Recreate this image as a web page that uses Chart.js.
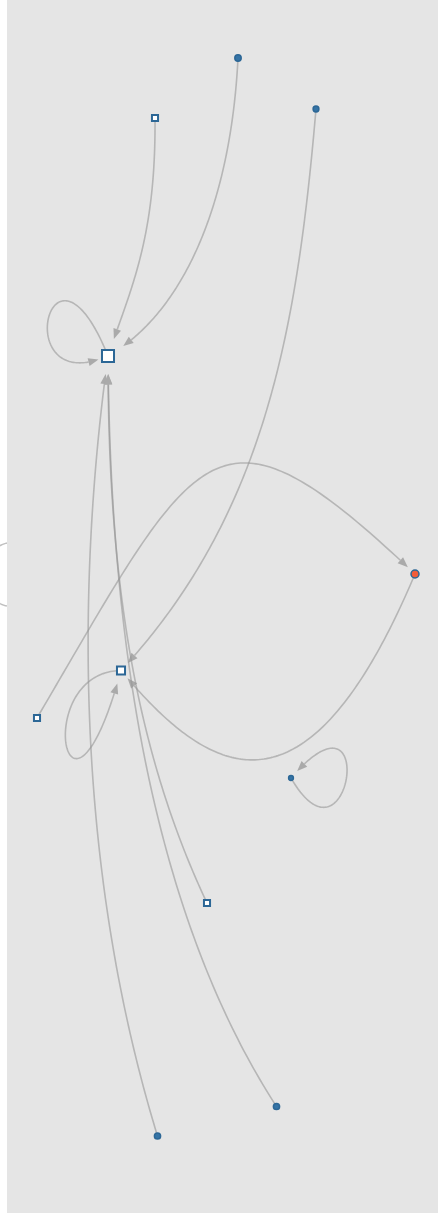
<!DOCTYPE html>
<html>
<head>
<meta charset="utf-8">
<script src="https://cdn.jsdelivr.net/npm/chart.js@4"></script>
<style>
html, body { margin: 0; padding: 0; background: #fff; }
#chart { display: block; }
</style>
</head>
<body>
<canvas id="chart" width="438" height="1213"></canvas>
<script>
// node layout (x to the right, y downwards)
const nodeNames = ['A', 'B', 'C', 'D', 'E', 'F', 'G', 'H', 'I', 'J', 'K'];
const nodeX = [101, 148, 231, 309, 408, 114, 30, 284, 200, 269.5, 150.5];
const nodeY = [356, 118, 58, 109, 574, 670.5, 718, 778, 903, 1106.5, 1136];
const nodeKind = ['box', 'box', 'dot', 'dot', 'hot', 'box', 'box', 'dot', 'box', 'dot', 'dot'];

// directed edges and their two bezier control points
const edgeFrom = ['B', 'C', 'A', 'D', 'G', 'E', 'F', 'H', 'K', 'J', 'I'];
const edgeTo   = ['A', 'A', 'A', 'F', 'E', 'F', 'F', 'H', 'A', 'A', 'A'];
const edgeCtrl = [
    [[149, 240], [123, 290]],
    [[224, 200], [178, 312]],
    [[43, 212], [0, 400]],
    [[290, 330], [258, 515]],
    [[193, 440], [208, 385]],
    [[300, 830], [205, 780]],
    [[22, 672], [60, 868]],
    [[343, 880], [373, 675]],
    [[63, 850], [73, 560]],
    [[123, 880], [103, 560]],
    [[123, 740], [101, 560]]
];
// an edge that runs off the left side of the plot
const strayEdge = [[0, 543], [-30, 550], [-30, 600], [0, 606]];

// styling
const nodeRadius = {A: 8.5, B: 4.3, C: 3.2, D: 2.9, E: 4, F: 5.7, G: 4.3, H: 2.4, I: 4.3, J: 3.1, K: 3.1};
const arrowGap = {A: 18, E: 9, F: 10, H: 9};
const loopGap = {A: 10, F: 13, H: 9};
const edgeColor = 'rgba(150,150,150,0.6)';
const arrowColor = '#aaaaaa';
const bgColor = '#e5e5e5';

function bez(p, t) {
    var u = 1 - t;
    var a = u * u * u, b = 3 * u * u * t, c = 3 * u * t * t, d = t * t * t;
    return [a * p[0][0] + b * p[1][0] + c * p[2][0] + d * p[3][0],
            a * p[0][1] + b * p[1][1] + c * p[2][1] + d * p[3][1]];
}

function dist(a, b) {
    return Math.hypot(a[0] - b[0], a[1] - b[1]);
}

function strokeBez(ctx, pts, t1) {
    ctx.beginPath();
    for (var i = 0; i <= 120; i++) {
        var q = bez(pts, t1 * i / 120);
        if (i === 0) ctx.moveTo(q[0], q[1]); else ctx.lineTo(q[0], q[1]);
    }
    ctx.stroke();
}

const edgePlugin = {
    id: 'edges',
    beforeDraw(chart) {
        const {ctx, chartArea: a, scales: {x, y}} = chart;
        const px = p => [x.getPixelForValue(p[0]), y.getPixelForValue(p[1])];
        ctx.save();
        ctx.strokeStyle = edgeColor;
        ctx.lineWidth = 1.5;
        strokeBez(ctx, strayEdge.map(px), 1);
        ctx.fillStyle = bgColor;
        ctx.fillRect(a.left, a.top, a.right - a.left, a.bottom - a.top);
        ctx.restore();
    },
    beforeDatasetsDraw(chart) {
        const {ctx, scales: {x, y}} = chart;
        const px = p => [x.getPixelForValue(p[0]), y.getPixelForValue(p[1])];
        ctx.save();
        ctx.lineWidth = 1.6;
        for (var e = 0; e < edgeFrom.length; e++) {
            var s = nodeNames.indexOf(edgeFrom[e]);
            var t = nodeNames.indexOf(edgeTo[e]);
            var pts = [[nodeX[s], nodeY[s]], edgeCtrl[e][0], edgeCtrl[e][1], [nodeX[t], nodeY[t]]].map(px);
            var gap = s === t ? loopGap[edgeTo[e]] : arrowGap[edgeTo[e]];
            var tip = 1;
            while (tip > 0 && dist(bez(pts, tip), pts[3]) < gap) tip -= 0.001;
            var tipPt = bez(pts, tip);
            var base = tip;
            while (base > 0 && dist(bez(pts, base), tipPt) < 10) base -= 0.001;
            var basePt = bez(pts, base);
            ctx.strokeStyle = edgeColor;
            strokeBez(ctx, pts, base);
            var dx = tipPt[0] - basePt[0], dy = tipPt[1] - basePt[1];
            var len = Math.hypot(dx, dy);
            var nx = -dy / len * 4, ny = dx / len * 4;
            ctx.fillStyle = arrowColor;
            ctx.beginPath();
            ctx.moveTo(tipPt[0], tipPt[1]);
            ctx.lineTo(basePt[0] + nx, basePt[1] + ny);
            ctx.lineTo(basePt[0] - nx, basePt[1] - ny);
            ctx.closePath();
            ctx.fill();
        }
        ctx.restore();
    }
};

var chart = new Chart(document.getElementById('chart'), {
    type: 'scatter',
    data: {
        datasets: [{
            label: 'nodes',
            data: nodeNames.map((n, i) => ({x: nodeX[i], y: nodeY[i]})),
            pointStyle: nodeKind.map(k => k === 'box' ? 'rect' : 'circle'),
            pointRadius: nodeNames.map(n => nodeRadius[n]),
            backgroundColor: nodeKind.map(k => k === 'box' ? '#ffffff' : (k === 'hot' ? '#f15c3a' : '#3574a6')),
            borderColor: '#2c6796',
            borderWidth: nodeKind.map(k => k === 'box' ? 2 : 1.5),
            clip: false
        }]
    },
    options: {
        responsive: false,
        animation: false,
        events: [],
        layout: { autoPadding: false, padding: { left: 7, right: 0, top: 0, bottom: 0 } },
        plugins: { legend: { display: false }, tooltip: { enabled: false } },
        scales: {
            x: { type: 'linear', min: 0, max: 431, display: false },
            y: { type: 'linear', min: 0, max: 1213, reverse: true, display: false }
        }
    },
    plugins: [edgePlugin]
});
</script>
</body>
</html>
